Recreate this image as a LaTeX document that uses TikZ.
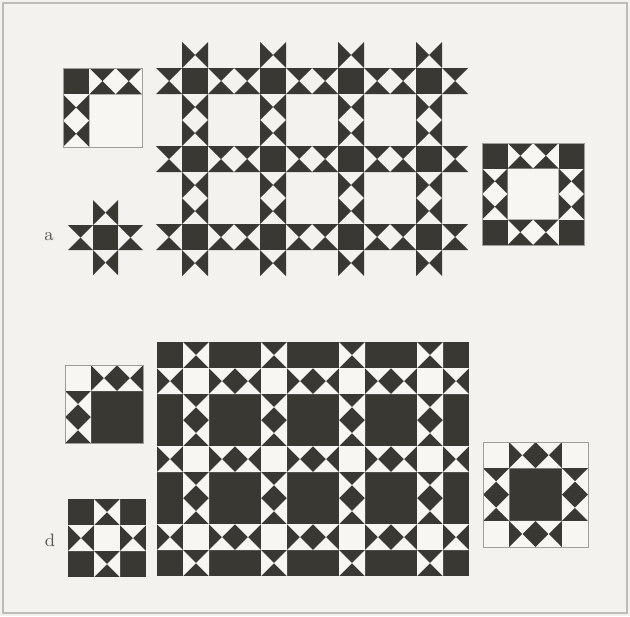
\documentclass[tikz,border=0pt]{standalone}
\definecolor{dk}{RGB}{58,56,50}
\definecolor{lt}{RGB}{247,246,243}
\definecolor{pg}{RGB}{243,242,239}
\definecolor{ol}{RGB}{160,158,152}
% two triangles pointing at the cell centre from the top and bottom edges
\newcommand\tritb[4]{%
  \fill[#4] ({#1},{#2}) -- ++({#3},0) -- ++({-(#3)/2},{(#3)/2}) -- cycle;
  \fill[#4] ({#1},{#2+#3}) -- ++({#3},0) -- ++({-(#3)/2},{-(#3)/2}) -- cycle;}
% two triangles pointing at the cell centre from the left and right edges
\newcommand\trilr[4]{%
  \fill[#4] ({#1},{#2}) -- ++(0,{#3}) -- ++({(#3)/2},{-(#3)/2}) -- cycle;
  \fill[#4] ({#1+#3},{#2}) -- ++(0,{#3}) -- ++({-(#3)/2},{-(#3)/2}) -- cycle;}
\newcommand\sq[4]{\fill[#4] ({#1},{#2}) rectangle ++({#3},{#3});}
\tikzset{outl/.style={draw=ol,line width=0.35pt},
  lbl/.style={font=\fontsize{9}{10}\selectfont,text=dk!85,inner sep=0pt}}
\begin{document}
\begin{tikzpicture}[x=0.5pt,y=-0.5pt]
\useasboundingbox (0,0) rectangle (630,616);
\fill[pg] (0,0) rectangle (630,616);
\draw[ol!70,line width=0.6pt] (3,3) rectangle (627,613);

% ===================== a =====================
% big grid
\foreach \c in {1,4,7,10} \foreach \r in {1,4,7} {\sq{156+26*\c}{42+26*\r}{26}{dk}}
\foreach \c in {0,2,3,5,6,8,9,11} \foreach \r in {1,4,7} {\tritb{156+26*\c}{42+26*\r}{26}{dk}}
\foreach \c in {1,4,7,10} \foreach \r in {0,2,3,5,6,8} {\trilr{156+26*\c}{42+26*\r}{26}{dk}}

% top-left block
\fill[lt] (63,68) rectangle ++(79,79);
\sq{63}{68}{26.3}{dk}
\foreach \c in {1,2} {\tritb{63+26.3*\c}{68}{26.3}{dk}}
\foreach \r in {1,2} {\trilr{63}{68+26.3*\r}{26.3}{dk}}
\draw[outl] (63,68) rectangle ++(79,79);

% star block
\sq{93}{225}{25}{dk}
\tritb{68}{225}{25}{dk}
\tritb{118}{225}{25}{dk}
\trilr{93}{200}{25}{dk}
\trilr{93}{250}{25}{dk}

% right block
\fill[lt] (482,143) rectangle ++(102,102);
\foreach \c in {0,3} \foreach \r in {0,3} {\sq{482+25.5*\c}{143+25.5*\r}{25.5}{dk}}
\foreach \c in {1,2} \foreach \r in {0,3} {\tritb{482+25.5*\c}{143+25.5*\r}{25.5}{dk}}
\foreach \c in {0,3} \foreach \r in {1,2} {\trilr{482+25.5*\c}{143+25.5*\r}{25.5}{dk}}
\draw[outl] (482,143) rectangle ++(102,102);

\node[lbl] (la) at (49,237) {a};

% ===================== d =====================
% big grid
\fill[dk] (157,342) rectangle ++(312,234);
\foreach \c in {1,4,7,10} \foreach \r in {1,4,7} {\sq{157+26*\c}{342+26*\r}{26}{lt}}
\foreach \c in {0,2,3,5,6,8,9,11} \foreach \r in {1,4,7} {\tritb{157+26*\c}{342+26*\r}{26}{lt}}
\foreach \c in {1,4,7,10} \foreach \r in {0,2,3,5,6,8} {\trilr{157+26*\c}{342+26*\r}{26}{lt}}

% top-left block
\fill[dk] (65,365) rectangle ++(78,78);
\sq{65}{365}{26}{lt}
\foreach \c in {1,2} {\tritb{65+26*\c}{365}{26}{lt}}
\foreach \r in {1,2} {\trilr{65}{365+26*\r}{26}{lt}}
\draw[outl] (65,365) rectangle ++(78,78);

% bottom-left block
\fill[dk] (68,499) rectangle ++(78,78);
\sq{94}{525}{26}{lt}
\tritb{68}{525}{26}{lt}
\tritb{120}{525}{26}{lt}
\trilr{94}{499}{26}{lt}
\trilr{94}{551}{26}{lt}

% right block
\fill[dk] (483,442) rectangle ++(105,105);
\foreach \c in {0,3} \foreach \r in {0,3} {\sq{483+26.25*\c}{442+26.25*\r}{26.25}{lt}}
\foreach \c in {1,2} \foreach \r in {0,3} {\tritb{483+26.25*\c}{442+26.25*\r}{26.25}{lt}}
\foreach \c in {0,3} \foreach \r in {1,2} {\trilr{483+26.25*\c}{442+26.25*\r}{26.25}{lt}}
\draw[outl] (483,442) rectangle ++(105,105);

\node[lbl] (ld) at (50,540) {d};
\end{tikzpicture}
\end{document}
